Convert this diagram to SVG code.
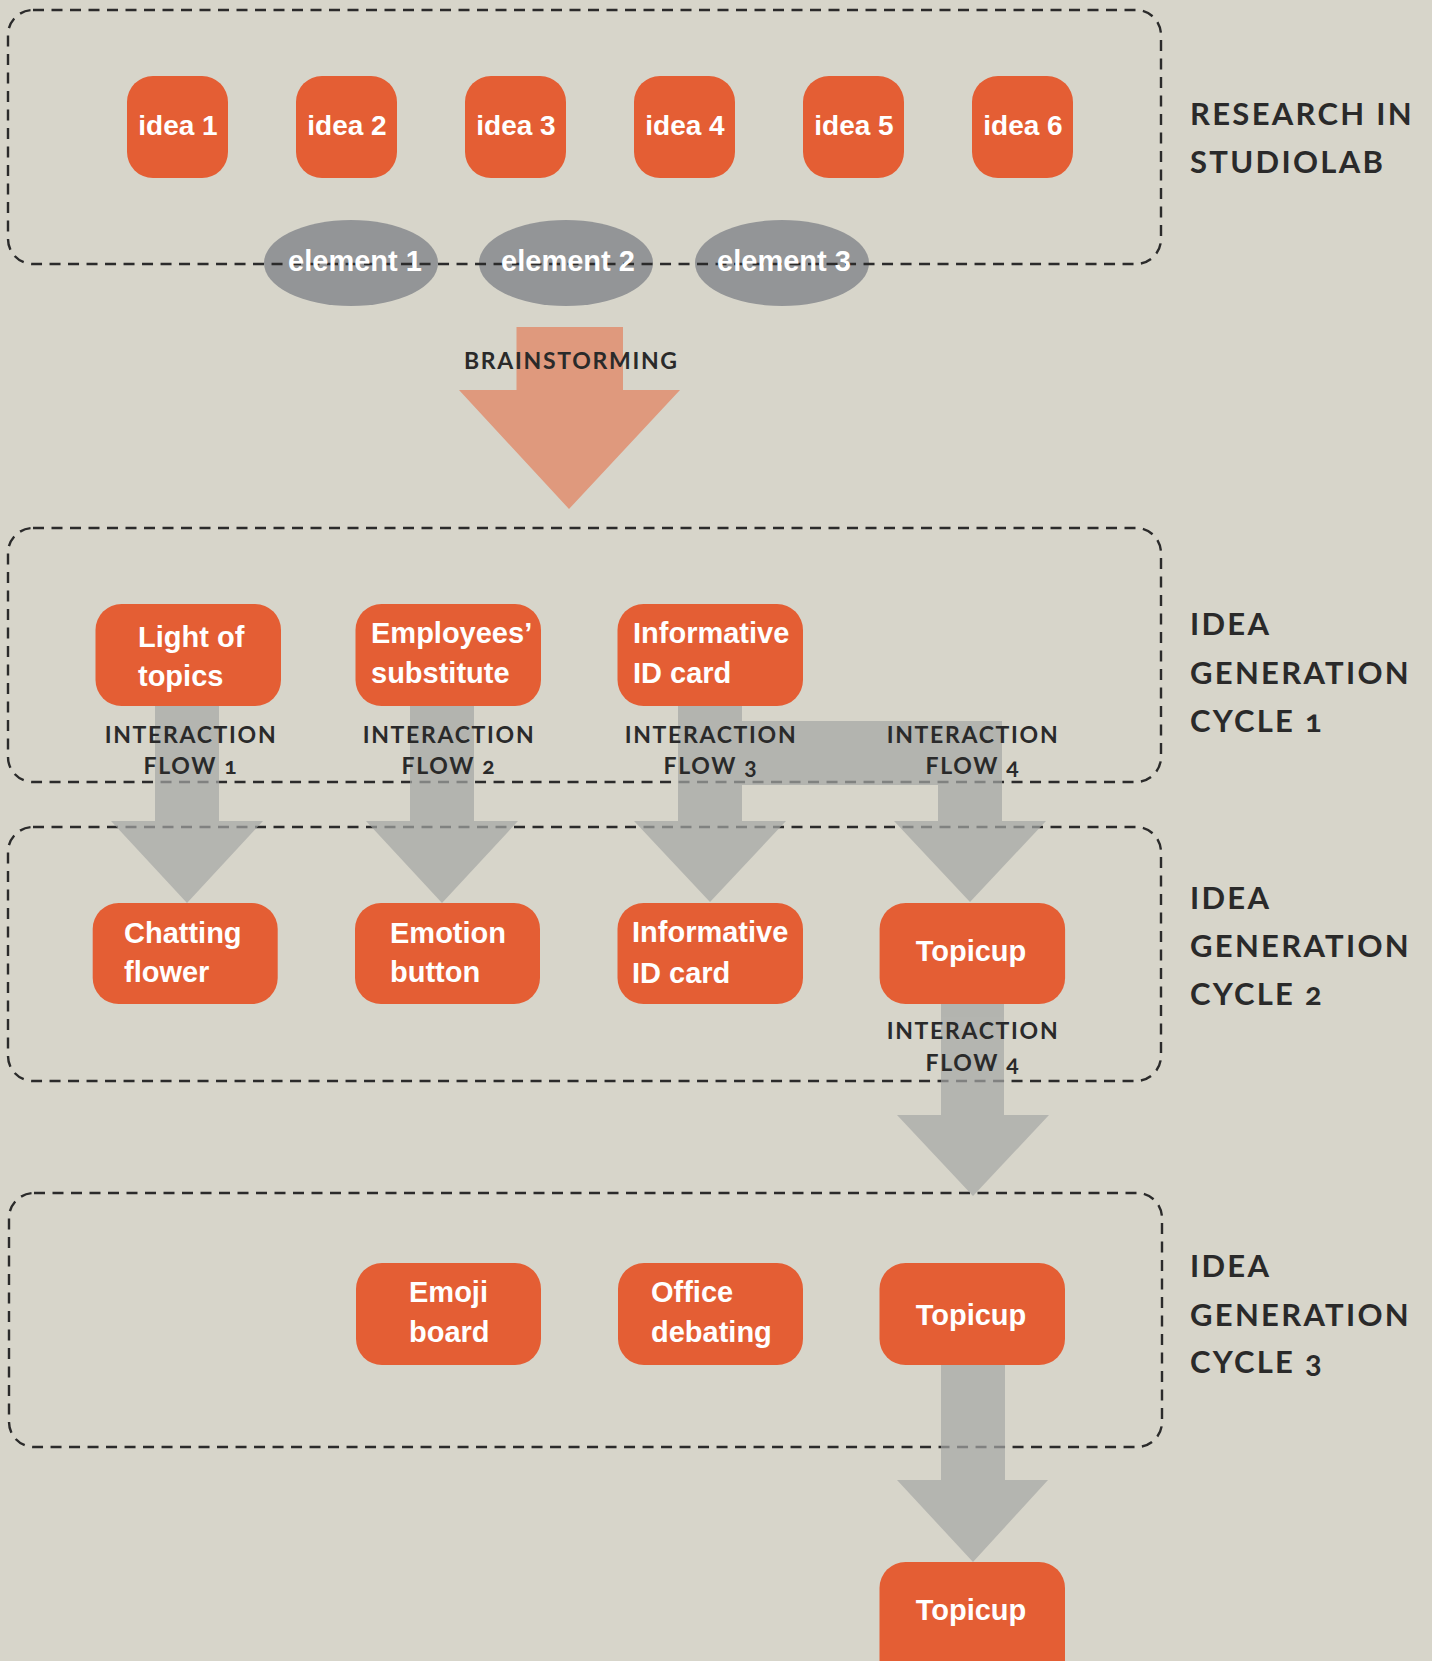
<svg xmlns="http://www.w3.org/2000/svg" width="1432" height="1661" viewBox="0 0 1432 1661">
<style>
.bg{fill:#D7D5CA}
.frame{fill:none;stroke:#2B2B2B;stroke-width:2.4;stroke-dasharray:11 7.5}
.node{fill:#E45E34}
.elem{fill:#939597}
.nt{font-family:"Liberation Sans",Arial,sans-serif;font-weight:bold;font-size:29px;fill:#FFFFFF}
.it{font-size:28px}
.lbl{font-family:Lato,"Noto Sans",sans-serif;font-weight:bold;font-size:23px;fill:#2A2A2A;letter-spacing:1.7px;font-variant-numeric:oldstyle-nums}
.side{font-family:Lato,"Noto Sans",sans-serif;font-weight:bold;font-size:31px;fill:#2A2A2A;letter-spacing:2.3px;font-variant-numeric:oldstyle-nums}
.mid{text-anchor:middle}
</style>
<rect class="bg" x="0" y="0" width="1432" height="1661"/>

<g id="research">
  <g id="element1"><ellipse class="elem" cx="351" cy="263" rx="87" ry="43"/></g>
  <g id="element2"><ellipse class="elem" cx="566" cy="263" rx="87" ry="43"/></g>
  <g id="element3"><ellipse class="elem" cx="782" cy="263" rx="87" ry="43"/></g>
  <rect class="frame" x="8" y="10" width="1153" height="254" rx="25"/>
  <text class="nt mid" x="355" y="271">element 1</text>
  <text class="nt mid" x="568" y="271">element 2</text>
  <text class="nt mid" x="784" y="271">element 3</text>
  <text class="side" x="1190" y="125">RESEARCH IN</text>
  <text class="side" x="1190" y="173">STUDIOLAB</text>
</g>
<g id="cycle1-frame">
  <rect class="frame" x="8" y="528" width="1153" height="254" rx="25"/>
  <text class="side" x="1190" y="635">IDEA</text>
  <text class="side" x="1190" y="684">GENERATION</text>
  <text class="side" x="1190" y="732">CYCLE 1</text>
</g>
<g id="cycle2-frame">
  <rect class="frame" x="8" y="827" width="1153" height="254" rx="25"/>
  <text class="side" x="1190" y="909">IDEA</text>
  <text class="side" x="1190" y="957">GENERATION</text>
  <text class="side" x="1190" y="1005">CYCLE 2</text>
</g>
<g id="cycle3-frame">
  <rect class="frame" x="9" y="1193" width="1153" height="254" rx="25"/>
  <text class="side" x="1190" y="1277">IDEA</text>
  <text class="side" x="1190" y="1326">GENERATION</text>
  <text class="side" x="1190" y="1373">CYCLE 3</text>
</g>

<g id="connectors">
  <path id="brainstorm-arrow" fill="#DF997D" d="M516.5,327 H623 V390 H680 L569,509 L459,390 H516.5 Z"/>
  <g opacity="0.7" fill="#A5A7A5">
    <path id="flow1" d="M155,705 H219 V821 H263 L187,903 L111,821 H155 Z"/>
    <path id="flow2" d="M410,705 H474 V821 H518 L442,903 L366,821 H410 Z"/>
    <path id="flow3" d="M678,705 H742 V821 H786 L710,902 L634,821 H678 Z"/>
    <path id="flow4" d="M742,721 H1002 V821 H1046 L970,902 L894,821 H938 V785 H742 Z"/>
    <path id="flow4b" d="M941,1003 H1004 V1115 H1049 L973,1196 L897,1115 H941 Z"/>
    <path id="final" d="M941,1364 H1005 V1480 H1048 L973,1562 L897,1480 H941 Z"/>
  </g>
  <text class="lbl" x="464" y="369">BRAINSTORMING</text>
  <text class="lbl mid" x="191" y="743">INTERACTION</text>
  <text class="lbl mid" x="191" y="774">FLOW 1</text>
  <text class="lbl mid" x="449" y="743">INTERACTION</text>
  <text class="lbl mid" x="449" y="774">FLOW 2</text>
  <text class="lbl mid" x="711" y="743">INTERACTION</text>
  <text class="lbl mid" x="711" y="774">FLOW 3</text>
  <text class="lbl mid" x="973" y="743">INTERACTION</text>
  <text class="lbl mid" x="973" y="774">FLOW 4</text>
  <text class="lbl mid" x="973" y="1039">INTERACTION</text>
  <text class="lbl mid" x="973" y="1071">FLOW 4</text>
</g>

<g id="idea1"><rect class="node" x="127" y="76" width="101" height="102" rx="26"/><text class="nt it mid" x="178" y="135">idea 1</text></g>
<g id="idea2"><rect class="node" x="296" y="76" width="101" height="102" rx="26"/><text class="nt it mid" x="347" y="135">idea 2</text></g>
<g id="idea3"><rect class="node" x="465" y="76" width="101" height="102" rx="26"/><text class="nt it mid" x="516" y="135">idea 3</text></g>
<g id="idea4"><rect class="node" x="634" y="76" width="101" height="102" rx="26"/><text class="nt it mid" x="685" y="135">idea 4</text></g>
<g id="idea5"><rect class="node" x="803" y="76" width="101" height="102" rx="26"/><text class="nt it mid" x="854" y="135">idea 5</text></g>
<g id="idea6"><rect class="node" x="972" y="76" width="101" height="102" rx="26"/><text class="nt it mid" x="1023" y="135">idea 6</text></g>

<g id="light-of-topics"><rect class="node" x="95.5" y="604" width="185.5" height="102" rx="26"/><text class="nt" x="138" y="647">Light of</text><text class="nt" x="138" y="686">topics</text></g>
<g id="employees-substitute"><rect class="node" x="355.5" y="604" width="185.5" height="102" rx="26"/><text class="nt" x="371" y="643">Employees’</text><text class="nt" x="371" y="683">substitute</text></g>
<g id="informative-id-card-1"><rect class="node" x="617.5" y="604" width="185.5" height="102" rx="26"/><text class="nt" x="633" y="643">Informative</text><text class="nt" x="633" y="683">ID card</text></g>

<g id="chatting-flower"><rect class="node" x="92.7" y="903" width="185" height="101" rx="26"/><text class="nt" x="124" y="943">Chatting</text><text class="nt" x="124" y="982">flower</text></g>
<g id="emotion-button"><rect class="node" x="355" y="903" width="185" height="101" rx="26"/><text class="nt" x="390" y="943">Emotion</text><text class="nt" x="390" y="982">button</text></g>
<g id="informative-id-card-2"><rect class="node" x="617.5" y="903" width="185.5" height="101" rx="26"/><text class="nt" x="632" y="942">Informative</text><text class="nt" x="632" y="983">ID card</text></g>
<g id="topicup-2"><rect class="node" x="879.6" y="903" width="185.5" height="101" rx="26"/><text class="nt mid" x="971" y="961">Topicup</text></g>

<g id="emoji-board"><rect class="node" x="356" y="1263" width="185" height="102" rx="26"/><text class="nt" x="409" y="1302">Emoji</text><text class="nt" x="409" y="1342">board</text></g>
<g id="office-debating"><rect class="node" x="618" y="1263" width="185" height="102" rx="26"/><text class="nt" x="651" y="1302">Office</text><text class="nt" x="651" y="1342">debating</text></g>
<g id="topicup-3"><rect class="node" x="879.5" y="1263" width="185.5" height="102" rx="26"/><text class="nt mid" x="971" y="1325">Topicup</text></g>

<g id="topicup-final"><rect class="node" x="879.5" y="1562" width="185.5" height="130" rx="26"/><text class="nt mid" x="971" y="1620">Topicup</text></g>
</svg>
